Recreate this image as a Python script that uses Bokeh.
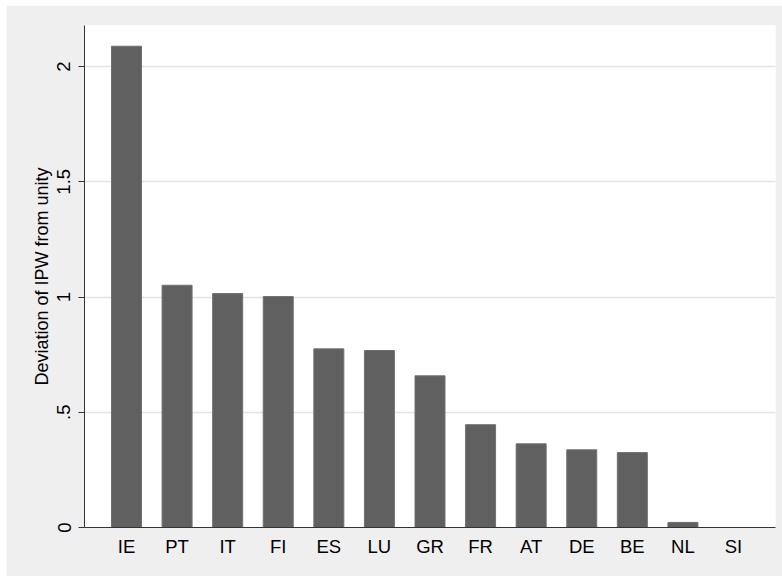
from bokeh.plotting import figure
from bokeh.models import FactorRange, Range1d, ColumnDataSource, FixedTicker
from bokeh.embed import file_html
from bokeh.resources import INLINE

countries = ["IE", "PT", "IT", "FI", "ES", "LU", "GR", "FR", "AT", "DE", "BE", "NL", "SI"]
deviation = [2.088, 1.051, 1.015, 1.002, 0.775, 0.768, 0.658, 0.446, 0.363, 0.337, 0.325, 0.022, 0.0]
y_ticks = [0, 0.5, 1, 1.5, 2]
y_tick_labels = {0: "0", 0.5: ".5", 1: "1", 1.5: "1.5", 2: "2"}

FONT = "Liberation Sans"
BG = "#EFEFEF"

src = ColumnDataSource(dict(country=countries, value=deviation))

p = figure(
    width=776, height=571,
    x_range=FactorRange(factors=countries, range_padding=0.0508),
    y_range=Range1d(0, 2.178),
    output_backend="svg", toolbar_location=None,
    min_border_left=78, min_border_right=7, min_border_top=20, min_border_bottom=49,
)
p.margin = (5, 0, 1, 6)
p.border_fill_color = BG
p.background_fill_color = "white"
p.outline_line_color = None

p.vbar(x="country", top="value", width=0.593, source=src,
       fill_color="#606060", line_color="#707070", line_width=1)

p.xgrid.grid_line_color = None
p.ygrid.grid_line_color = "#E4E4E4"
p.ygrid.grid_line_width = 1.5
p.ygrid.ticker = FixedTicker(ticks=y_ticks)

yax = p.yaxis[0]
yax.ticker = FixedTicker(ticks=y_ticks)
yax.major_label_overrides = y_tick_labels
yax.major_label_orientation = "vertical"
yax.major_tick_out = 6
yax.major_tick_in = 0
yax.minor_tick_line_color = None
yax.major_tick_line_color = "#333333"
yax.axis_line_color = "#333333"
yax.major_label_standoff = 8
yax.major_label_text_font = FONT
yax.major_label_text_font_size = "18.5px"
yax.major_label_text_color = "black"
yax.axis_label = "Deviation of IPW from unity"
yax.axis_label_text_font = FONT
yax.axis_label_text_font_size = "18px"
yax.axis_label_text_font_style = "normal"
yax.axis_label_text_color = "black"
yax.axis_label_standoff = 3

xax = p.xaxis[0]
xax.major_tick_line_color = None
xax.major_tick_out = 0
xax.major_tick_in = 0
xax.axis_line_color = "#333333"
xax.major_label_standoff = 8
xax.major_label_text_font = FONT
xax.major_label_text_font_size = "18.5px"
xax.major_label_text_color = "black"

html = file_html(p, INLINE)
html = html.replace("<body>", '<body style="margin:0;background:white;">')
open("out.html", "w").write(html)
